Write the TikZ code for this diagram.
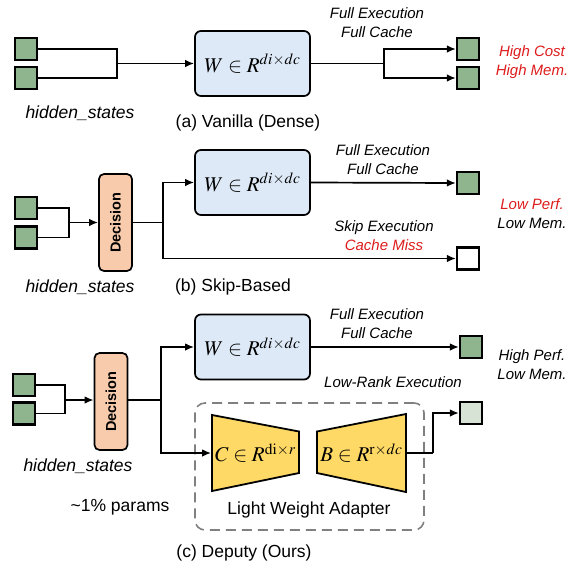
\documentclass[tikz,border=0pt]{standalone}
\usepackage{mathptmx}
\usepackage{graphicx}
\usepackage{fontspec}
\setmainfont{Liberation Sans}
\definecolor{tokgreen}{RGB}{143,181,143}
\definecolor{toklight}{RGB}{215,228,213}
\definecolor{wblue}{RGB}{221,233,247}
\definecolor{decpeach}{RGB}{248,203,173}
\definecolor{adaptyellow}{RGB}{255,217,102}
\definecolor{warnred}{RGB}{222,28,28}
\definecolor{dashgray}{RGB}{128,128,128}
\usetikzlibrary{arrows.meta,positioning}
\tikzset{
  tok/.style={draw,line width=2.2pt,fill=tokgreen,minimum size=22pt,inner sep=0pt},
  wbox/.style={draw,line width=1.7pt,fill=wblue,rounded corners=6pt,
               minimum width=115pt,minimum height=65pt,inner sep=0pt,
               font=\fontsize{21}{24}\selectfont},
  decbox/.style={draw,line width=1.7pt,fill=decpeach,rounded corners=5pt,
                 minimum width=33pt,minimum height=97pt,inner sep=0pt,
                 font=\fontsize{14.5}{16}\selectfont\bfseries},
  trapnode/.style={inner sep=0pt,font=\fontsize{21}{24}\selectfont},
  trap/.style={draw,line width=1.8pt,fill=adaptyellow,line join=miter},
  arr/.style={-{Latex[length=9pt,width=7.5pt]}},
  note/.style={align=center,font=\fontsize{15}{19}\selectfont\itshape},
  captext/.style={font=\fontsize{17.5}{20}\selectfont},
  hid/.style={font=\fontsize{17.5}{20}\selectfont\itshape}
}
\begin{document}
\begin{tikzpicture}[x=1pt,y=-1pt,line width=1.7pt]
  \useasboundingbox (0,0) rectangle (572,563);

  %% (a) Vanilla (Dense)
  \node[tok] (ain1) at (26,49) {};
  \node[tok] (ain2) at (26,78) {};
  \node[wbox] (aW) at (252.5,63.5) {$W\in R^{di\times dc}$};
  \node[tok] (aout1) at (468,49) {};
  \node[tok] (aout2) at (468,78) {};
  \coordinate (aj) at (117,63.5);
  \coordinate (ak) at (384,63.5);
  \draw (ain1.east) -| (aj) |- (ain2.east);
  \draw[arr] (aj) -- (aW.west);
  \draw (aW.east) -- (ak);
  \draw[arr] (ak) |- (aout1.west);
  \draw[arr] (ak) |- (aout2.west);
  \node[note] (anote) at (377,22.5) {Full Execution\\Full Cache};
  \node[note,text=warnred] (acost) at (532,62.5) {High Cost\\High Mem.};
  \node[hid] (ahid) at (80,113) {hidden\_states};
  \node[captext] (acap) at (248,123) {(a) Vanilla (Dense)};

  %% (b) Skip-Based
  \node[tok] (bin1) at (26,208) {};
  \node[tok] (bin2) at (26,237.5) {};
  \node[decbox] (bdec) at (115.5,222.5) {\rotatebox{90}{Decision}};
  \node[wbox] (bW) at (252.5,182.5) {$W\in R^{di\times dc}$};
  \node[tok] (bout) at (468,183) {};
  \node[tok,fill=white] (bskip) at (468,258.5) {};
  \coordinate (bj) at (69,222.5);
  \coordinate (bk) at (163,222.5);
  \draw (bin1.east) -| (bj) |- (bin2.east);
  \draw[arr] (bj) -- (bdec.west);
  \draw (bdec.east) -- (bk);
  \draw[arr] (bk) |- (bW.west);
  \draw[arr] (bk) |- (bskip.west);
  \draw[arr] (bW.east) -- (bout.west);
  \node[note] (bnote) at (383,160) {Full Execution\\Full Cache};
  \node[note] (bskipnote) at (384,236) {Skip Execution\\\textcolor{warnred}{Cache Miss}};
  \node[note] (bcost) at (532,214) {\textcolor{warnred}{Low Perf.}\\Low Mem.};
  \node[hid] (bhid) at (80,287) {hidden\_states};
  \node[captext] (bcap) at (233,287) {(b) Skip-Based};

  %% (c) Deputy (Ours)
  \node[draw,dashed,dash pattern=on 10pt off 6pt,dashgray,line width=1.6pt,
        rounded corners=10pt,minimum width=229pt,minimum height=127pt]
        (adapter) at (309.5,466.5) {};
  \draw[trap] (212,415) -- (299,431.5) -- (299,473) -- (212,491) -- cycle;
  \draw[trap] (317,431.5) -- (406,414) -- (406,492) -- (317,473) -- cycle;
  \node[trapnode,minimum width=87pt,minimum height=76pt] (cC) at (255.5,453)
        {$C\in R^{\mathrm{di}\times r}$};
  \node[trapnode,minimum width=89pt,minimum height=78pt] (cB) at (361.5,453)
        {$B\in R^{\mathrm{r}\times dc}$};
  \node[tok] (cin1) at (24,385) {};
  \node[tok] (cin2) at (24,413.5) {};
  \node[decbox] (cdec) at (111,401.5) {\rotatebox{90}{Decision}};
  \node[wbox] (cW) at (252.5,347) {$W\in R^{di\times dc}$};
  \node[tok] (cout) at (471,347) {};
  \node[tok,fill=toklight] (clow) at (471,413) {};
  \coordinate (cj) at (65,400);
  \coordinate (ck) at (161,400);
  \coordinate (cm) at (433,453);
  \draw (cin1.east) -| (cj) |- (cin2.east);
  \draw[arr] (cj) -- (cdec.west |- cj);
  \draw (cdec.east |- ck) -- (ck);
  \draw[arr] (ck) |- (cW.west);
  \draw[arr] (ck) |- (cC.west);
  \draw[arr] (cW.east) -- (cout.west);
  \draw (cB.east) -- (cm);
  \draw[arr] (cm) |- (clow.west);
  \node[note] (cnote) at (377,324) {Full Execution\\Full Cache};
  \node[note] (crank) at (393,382) {Low-Rank Execution};
  \node[note] (ccost) at (532,365) {High Perf.\\Low Mem.};
  \node[hid] (chid) at (78,466) {hidden\_states};
  \node[captext] (cparams) at (120,507) {\textasciitilde 1\% params};
  \node[captext] (cadapt) at (309,510) {Light Weight Adapter};
  \node[captext] (ccap) at (244,553) {(c) Deputy (Ours)};
\end{tikzpicture}
\end{document}
